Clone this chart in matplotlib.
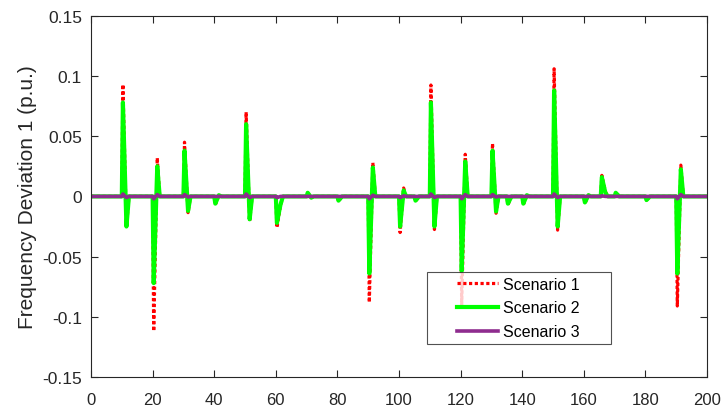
import matplotlib.pyplot as plt
import numpy as np
from matplotlib.legend_handler import HandlerLine2D

plt.rcParams["font.family"] = ["Liberation Sans", "DejaVu Sans"]

# disturbance instants and the two swings of each transient (p.u.)
event_t = [10, 20, 30, 40, 50, 60, 70, 80, 90, 100, 105, 110,
           120, 130, 135, 140, 150, 160, 165.5, 170, 180, 190]

s1_first = [0.093, -0.112, 0.045, -0.007, 0.070, -0.026, 0.003, -0.004,
            -0.088, -0.030, -0.004, 0.0925, -0.090, 0.044, -0.007, -0.007,
            0.106, -0.006, 0.0175, 0.003, -0.003, -0.091]
s1_second = [-0.026, 0.032, -0.0135, 0.001, -0.0205, -0.008, -0.001, 0.0,
             0.028, 0.007, 0.0, -0.0275, 0.035, -0.014, 0.0, 0.001,
             -0.028, 0.001, 0.004, 0.0, 0.0, 0.026]

s2_first = [0.078, -0.072, 0.038, -0.006, 0.060, -0.022, 0.003, -0.0035,
            -0.064, -0.025, -0.0035, 0.078, -0.062, 0.038, -0.006, -0.006,
            0.088, -0.005, 0.016, 0.003, -0.003, -0.064]
s2_second = [-0.025, 0.025, -0.012, 0.001, -0.019, -0.007, -0.001, 0.0,
             0.024, 0.005, 0.0, -0.025, 0.029, -0.0125, 0.0, 0.001,
             -0.025, 0.001, 0.003, 0.0, 0.0, 0.0225]

s3_first = [0.002, -0.002, 0.0015, 0.0, 0.002, -0.001, 0.0, 0.0,
            -0.002, -0.001, 0.0, 0.002, -0.002, 0.0015, 0.0, 0.0,
            0.002, 0.0, 0.0005, 0.0, 0.0, -0.002]
s3_second = [-0.001, 0.0015, -0.0005, 0.0, -0.001, 0.0, 0.0, 0.0,
             0.001, 0.0005, 0.0, -0.001, 0.0015, -0.0005, 0.0, 0.0,
             -0.001, 0.0, 0.0, 0.0, 0.0, 0.0015]

t_end = 200


def build_trace(first, second):
    # each transient: jump to first swing, overshoot to second, settle
    t = [0.0]
    y = [0.0]
    for t0, a, b in zip(event_t, first, second):
        t += [t0, t0 + 0.35, t0 + 1.5, t0 + 2.3]
        y += [0.0, a, b, 0.0]
    t.append(t_end)
    y.append(0.0)
    return np.array(t), np.array(y)


fig = plt.figure(figsize=(7.23, 4.10), dpi=100)
ax = fig.add_axes([0.1259, 0.0780, 0.8520, 0.8810])

t1, y1 = build_trace(s1_first, s1_second)
t2, y2 = build_trace(s2_first, s2_second)
t3, y3 = build_trace(s3_first, s3_second)

ax.plot(t1, y1, color="#ff0000", lw=2.3, linestyle=(0, (1, 0.8)),
        dash_capstyle="butt", label="Scenario 1")
ax.plot(t2, y2, color="#00ff00", lw=3.0, label="Scenario 2")
ax.plot(t3, y3, color="#8e2c8e", lw=2.6, label="Scenario 3")

ax.set_xlim(0, 200)
ax.set_ylim(-0.15, 0.15)
ax.set_xticks(np.arange(0, 201, 20))
ax.set_yticks([-0.15, -0.1, -0.05, 0, 0.05, 0.1, 0.15])
ax.set_yticklabels(["-0.15", "-0.1", "-0.05", "0", "0.05", "0.1", "0.15"])
ax.tick_params(direction="in", length=5, width=0.8, top=True, right=True,
               labelsize=12, labelcolor="#262626", color="#262626")
ax.tick_params(axis="y", pad=6.5, labelsize=12.5)
ax.tick_params(axis="x", pad=10.5)
for side in ax.spines.values():
    side.set_color("#262626")
    side.set_linewidth(0.8)

ax.set_ylabel("Frequency Deviation 1 (p.u.)", fontsize=15, color="#262626",
              labelpad=4)

# indented legend samples, box stretched to a fixed width
pad_handler = HandlerLine2D(xpad=1.575)
handles, labels = ax.get_legend_handles_labels()
leg = ax.legend(handles, labels, loc="lower left",
                bbox_to_anchor=(0.5455, 0.0914, 0.2987, 0.2),
                mode="expand", fontsize=11.5, frameon=True, fancybox=False,
                handlelength=4.14, handletextpad=0.3, borderpad=0.3,
                labelspacing=0.55, borderaxespad=0,
                handler_map={h: pad_handler for h in handles})
leg.get_frame().set_edgecolor("#262626")
leg.get_frame().set_linewidth(0.8)

fig.savefig("out.png", dpi=100)
